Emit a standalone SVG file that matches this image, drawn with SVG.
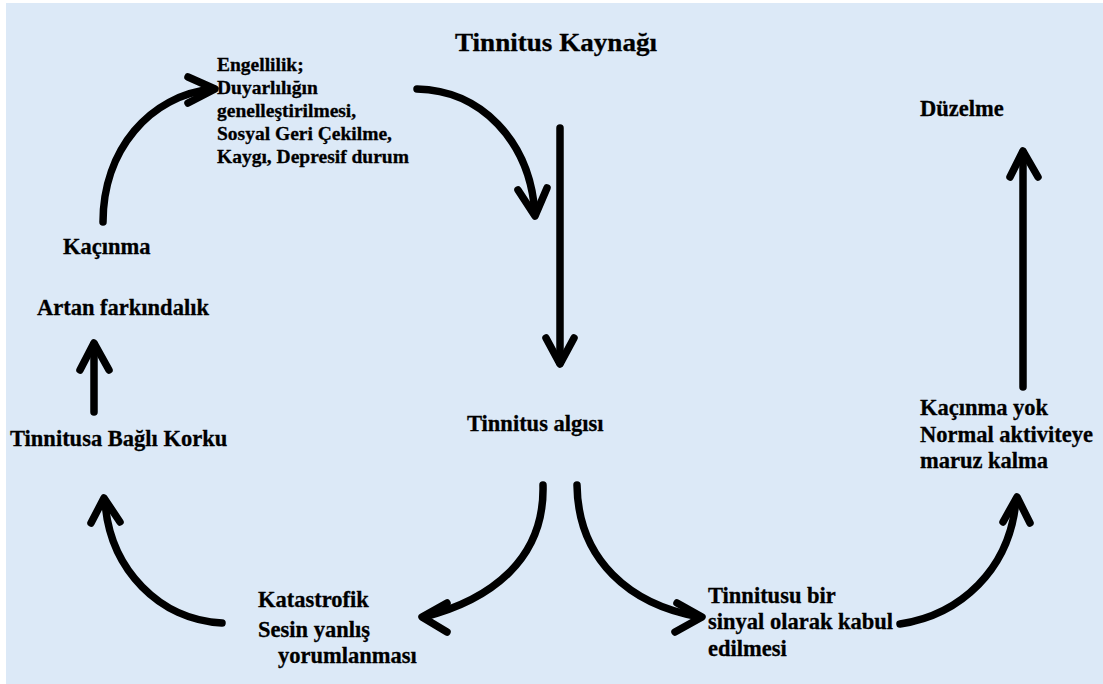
<svg xmlns="http://www.w3.org/2000/svg" width="1103" height="684" viewBox="0 0 1103 684">
<style>
.bg{fill:#dce9f7}
.txt text{font-family:"Liberation Serif","Times New Roman",serif;font-weight:bold;fill:#000;stroke:#000;stroke-width:0.3}
.t{font-size:22.5px}
.s{font-size:19.5px}
.title{font-size:26px}
.a{fill:none;stroke:#000;stroke-width:7.5;stroke-linecap:round;stroke-linejoin:round}
</style>
<rect width="1103" height="684" fill="#fff"/>
<rect class="bg" x="6" y="3" width="1097" height="681"/>
<g class="txt">
<g id="title"><text class="title" x="455" y="51" textLength="202" lengthAdjust="spacingAndGlyphs">Tinnitus Kaynağı</text></g>
<g id="engellilik">
<text class="s" x="217" y="71">Engellilik;</text>
<text class="s" x="217" y="94">Duyarlılığın</text>
<text class="s" x="217" y="117">genelleştirilmesi,</text>
<text class="s" x="217" y="140">Sosyal Geri Çekilme,</text>
<text class="s" x="217" y="163">Kaygı, Depresif durum</text>
</g>
<g id="kacinma"><text class="t" x="63" y="254">Kaçınma</text></g>
<g id="artan"><text class="t" x="37" y="315">Artan farkındalık</text></g>
<g id="korku"><text class="t" x="10" y="446">Tinnitusa Bağlı Korku</text></g>
<g id="algi"><text class="t" x="467" y="431">Tinnitus algısı</text></g>
<g id="duzelme"><text class="t" x="920" y="116">Düzelme</text></g>
<g id="kacinmayok">
<text class="t" x="920" y="415">Kaçınma yok</text>
<text class="t" x="920" y="442">Normal aktiviteye</text>
<text class="t" x="920" y="468">maruz kalma</text>
</g>
<g id="katastrofik">
<text class="t" x="258" y="607">Katastrofik</text>
<text class="t" x="258" y="637">Sesin yanlış</text>
<text class="t" x="278" y="663">yorumlanması</text>
</g>
<g id="sinyal">
<text class="t" x="708" y="603">Tinnitusu bir</text>
<text class="t" x="708" y="629">sinyal olarak kabul</text>
<text class="t" x="708" y="656">edilmesi</text>
</g>
</g>
<g id="connectors">
<path class="a" d="M103,222 C103,150 150,95 213,89"/>
<polyline class="a" points="188,77 215,89 188,103"/>
<path class="a" d="M417,89 C480,90 530,140 535,214"/>
<polyline class="a" points="518,190 535,216 547,188"/>
<path class="a" d="M560,128 L560,363"/>
<polyline class="a" points="546,338 560,364 574,338"/>
<path class="a" d="M543,485 C545,560 490,600 424,617"/>
<polyline class="a" points="447,603 422,617 447,632"/>
<path class="a" d="M577,485 C578,560 630,605 700,617"/>
<polyline class="a" points="677,603 702,617 675,632"/>
<path class="a" d="M900,624 C960,615 1010,570 1016,500"/>
<polyline class="a" points="1003,522 1017,497 1030,523"/>
<path class="a" d="M1023,387 L1023,152"/>
<polyline class="a" points="1010,177 1023,151 1038,177"/>
<path class="a" d="M94,412 L94,344"/>
<polyline class="a" points="80,370 94,343 109,370"/>
<path class="a" d="M222,623 C160,620 110,570 105,502"/>
<polyline class="a" points="91,523 104,498 120,522"/>
</g>
</svg>
